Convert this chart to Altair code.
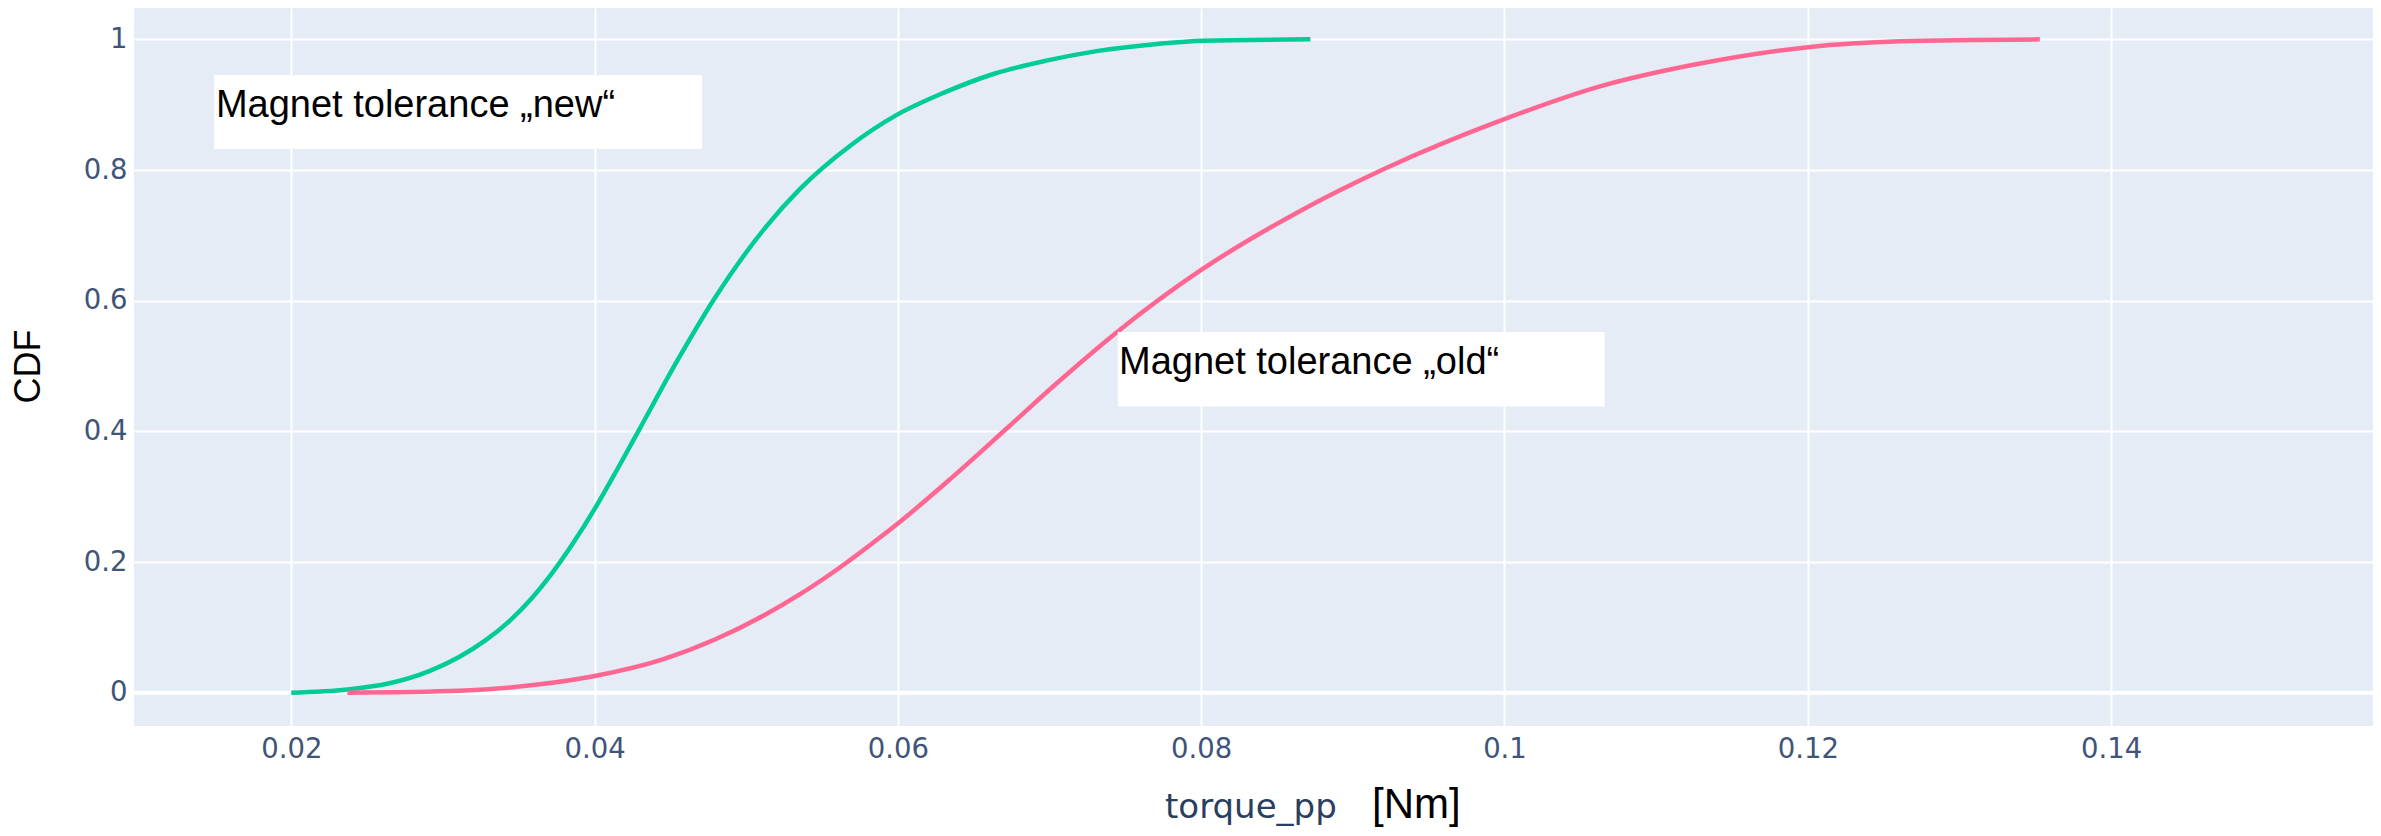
import altair as alt
import pandas as pd

# ---- data ----
new_torque = [0.0200, 0.0237, 0.0264, 0.0291, 0.0311, 0.0328, 0.0344, 0.0358, 0.0371,
              0.0385, 0.0401, 0.0415, 0.0430, 0.0455, 0.0479, 0.0513, 0.0535, 0.0569,
              0.0599, 0.0630, 0.0663, 0.0697, 0.0731, 0.0771, 0.0801, 0.0872]
new_cdf = [0.000, 0.005, 0.014, 0.033, 0.055, 0.080, 0.110, 0.143, 0.180,
           0.226, 0.285, 0.342, 0.405, 0.510, 0.603, 0.713, 0.770, 0.838,
           0.884, 0.918, 0.947, 0.967, 0.982, 0.993, 0.998, 1.000]

old_torque = [0.0237, 0.0311, 0.0361, 0.0401, 0.0445, 0.0479, 0.0513, 0.0535, 0.0562,
              0.0589, 0.0600, 0.0636, 0.0673, 0.0704, 0.0744, 0.0800, 0.0865, 0.0922,
              0.0999, 0.1063, 0.1129, 0.1200, 0.1261, 0.1353]
old_cdf = [0.000, 0.003, 0.012, 0.026, 0.051, 0.081, 0.120, 0.150, 0.192,
           0.239, 0.259, 0.330, 0.407, 0.472, 0.551, 0.647, 0.737, 0.803,
           0.877, 0.928, 0.963, 0.988, 0.997, 1.000]

series_names = ["new", "old"]
series_colors = ["#00cc96", "#ff6692"]

x_tick_values = [0.02, 0.04, 0.06, 0.08, 0.10, 0.12, 0.14]
y_tick_values = [0, 0.2, 0.4, 0.6, 0.8, 1.0]

label_texts = ["Magnet tolerance \u201enew\u201c", "Magnet tolerance \u201eold\u201c"]
label_x0 = [0.0149, 0.0745]
label_x1 = [0.0471, 0.1066]
label_y0 = [0.8321, 0.4382]
label_y1 = [0.9454, 0.5520]
label_tx = [0.01503, 0.07458]
label_ty = [0.8806, 0.4878]

x_title = "torque_pp"
x_unit = "[Nm]"
y_title = "CDF"

# ---- tables ----
curves = pd.concat([
    pd.DataFrame({"torque": new_torque, "cdf": new_cdf, "series": "new"}),
    pd.DataFrame({"torque": old_torque, "cdf": old_cdf, "series": "old"}),
], ignore_index=True)

boxes = pd.DataFrame({"x0": label_x0, "x1": label_x1, "y0": label_y0, "y1": label_y1,
                      "tx": label_tx, "ty": label_ty, "text": label_texts})

W, H = 2239, 718
xscale = alt.Scale(domain=[0.00963, 0.15727], nice=False, zero=False)
yscale = alt.Scale(domain=[-0.051, 1.048], nice=False, zero=False)

tick_font = "DejaVu Sans"
tick_color = "#405479"
title_color = "#2a3f5f"

x_axis = alt.Axis(values=x_tick_values, format=".2~f", grid=True, gridColor="white",
                  gridWidth=2, ticks=False, tickSize=0, domain=False,
                  labelFont=tick_font, labelFontSize=27.5, labelColor=tick_color,
                  labelPadding=9, title=None)
y_axis = alt.Axis(values=y_tick_values, format=".1~f", grid=True, gridColor="white",
                  gridWidth=2, ticks=False, tickSize=0, domain=False,
                  labelFont=tick_font, labelFontSize=27.5, labelColor=tick_color,
                  labelPadding=7, title=None)

zero_line = alt.Chart(pd.DataFrame({"y": [0.0]})).mark_rule(
    color="white", strokeWidth=4
).encode(y=alt.Y("y:Q", scale=yscale, axis=y_axis))

lines = alt.Chart(curves).mark_line(strokeWidth=4.5, interpolate="monotone", clip=True).encode(
    x=alt.X("torque:Q", scale=xscale, axis=x_axis),
    y=alt.Y("cdf:Q", scale=yscale, axis=y_axis),
    color=alt.Color("series:N", scale=alt.Scale(domain=series_names, range=series_colors),
                    legend=None),
)

rects = alt.Chart(boxes).mark_rect(color="white").encode(
    x=alt.X("x0:Q", scale=xscale, axis=x_axis), x2="x1:Q",
    y=alt.Y("y0:Q", scale=yscale, axis=y_axis), y2="y1:Q",
)

labels = alt.Chart(boxes).mark_text(
    align="left", baseline="alphabetic", font="Liberation Sans", fontSize=38, color="black"
).encode(
    x=alt.X("tx:Q", scale=xscale, axis=x_axis),
    y=alt.Y("ty:Q", scale=yscale, axis=y_axis),
    text="text:N",
)

xt = alt.Chart(pd.DataFrame({"t": [x_title]})).mark_text(
    align="left", baseline="alphabetic", font=tick_font, fontSize=34, color=title_color
).encode(x=alt.value(1031), y=alt.value(810), text="t:N")

xu = alt.Chart(pd.DataFrame({"t": [x_unit]})).mark_text(
    align="left", baseline="alphabetic", font="Liberation Sans", fontSize=42, color="black"
).encode(x=alt.value(1238), y=alt.value(810), text="t:N")

yt = alt.Chart(pd.DataFrame({"t": [y_title]})).mark_text(
    align="center", baseline="middle", font="Liberation Sans", fontSize=36, color="black",
    angle=270
).encode(x=alt.value(-105), y=alt.value(358.5), text="t:N")

chart = alt.layer(zero_line, lines, rects, labels, xt, xu, yt).properties(
    width=W, height=H,
    autosize=alt.AutoSizeParams(type="none"),
    padding={"left": 126, "top": 0, "right": 0, "bottom": 102},
    background="white",
).configure_view(fill="#e5ecf6", strokeWidth=0)

chart.save("out.html", embed_options={"renderer": "svg", "actions": False})
